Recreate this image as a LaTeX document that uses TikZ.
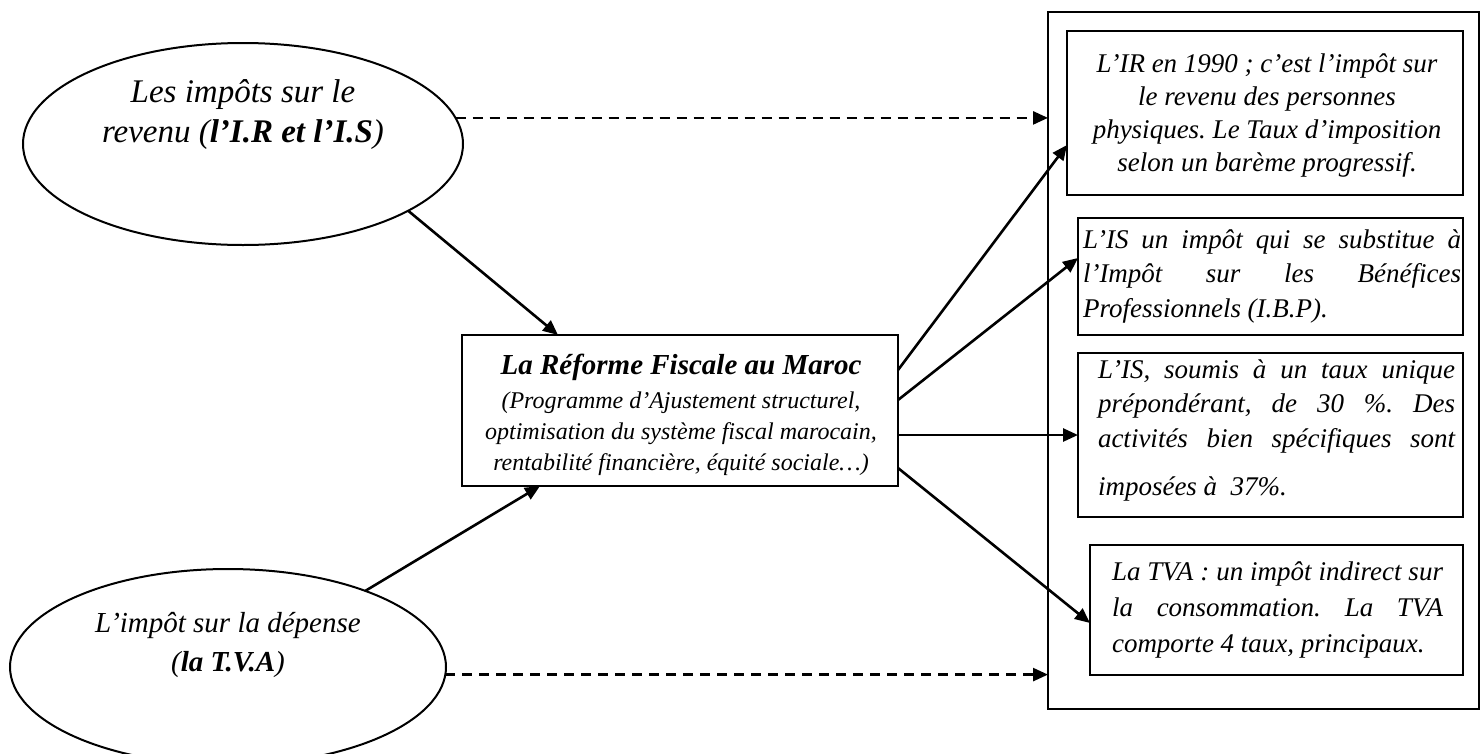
\documentclass[tikz,border=0pt]{standalone}
\usepackage{fontspec}
\setmainfont{Liberation Serif}
\usetikzlibrary{arrows.meta,shapes.geometric}
\newcommand\fsz[2]{\fontsize{#1}{#2}\selectfont}
\frenchspacing
\begin{document}
\begin{tikzpicture}[x=1pt,y=-1pt,
  box/.style={draw,line width=2pt,inner sep=0pt,outer sep=0pt,anchor=north west},
  oval/.style={draw,ellipse,line width=2pt,inner sep=0pt,outer sep=0pt},
  arr/.style={line width=2.6pt,-{Triangle[length=15pt,width=13pt]}},
  darr/.style={arr,dash pattern=on 10pt off 7pt},
  txt/.style={inner sep=0pt,outer sep=0pt}]
\useasboundingbox (0,0) rectangle (1481,753);
\clip (0,0) rectangle (1481,753);

% boxes
\node[box,minimum width=431pt,minimum height=697pt] (outer) at (1048,12) {};
\node[box,minimum width=396pt,minimum height=164pt] (b1) at (1067,31) {};
\node[box,minimum width=385pt,minimum height=117pt] (b2) at (1078,218) {};
\node[box,minimum width=385pt,minimum height=164pt] (b3) at (1078,353) {};
\node[box,minimum width=373pt,minimum height=130pt] (b4) at (1090,545) {};
\node[box,minimum width=436pt,minimum height=151pt] (c) at (462,335) {};

% ellipses
\node[oval,minimum width=440pt,minimum height=202pt] (e1) at (243,144) {};
\node[oval,minimum width=436pt,minimum height=196pt] (e2) at (228,667) {};

% texts
\node[txt,anchor=base] (te1) at (243,102) {\parbox[t]{420pt}{\centering\fsz{33}{40}\itshape
  Les impôts sur le\\ revenu (\textbf{l’I.R et l’I.S})}};
\node[txt,anchor=base] (te2) at (228,632) {\parbox[t]{420pt}{\centering\fsz{29}{39}\itshape
  L’impôt sur la dépense\\ (\textbf{la T.V.A})}};
\node[txt,anchor=base] (tc) at (681,374) {\parbox[t]{430pt}{\centering\itshape
  {\fsz{29}{34}\bfseries La Réforme Fiscale au Maroc\par}\vspace{3pt}%
  \fsz{24}{31}(Programme d’Ajustement structurel,\\
  optimisation du système fiscal marocain,\\
  rentabilité financière, équité sociale…)}};
\node[txt,anchor=base] (tb1) at (1267,72) {\parbox[t]{396pt}{\centering\fsz{27}{33}\itshape
  L’IR en 1990 ; c’est l’impôt sur\\ le revenu des personnes\\
  physiques. Le Taux d’imposition\\ selon un barème progressif.}};
\node[txt,anchor=base west] (tb2) at (1083,248) {\parbox[t]{378pt}{\fsz{27}{34.5}\itshape
  \makebox[378pt][s]{L’IS un impôt qui se substitue à}\\
  \makebox[378pt][s]{l’Impôt sur les Bénéfices}\\
  Professionnels (I.B.P).}};
\node[txt,anchor=base west] (tb3) at (1098,378) {\parbox[t]{357pt}{\fsz{27}{34.5}\itshape
  \makebox[357pt][s]{L’IS, soumis à un taux unique}\\
  \makebox[357pt][s]{prépondérant, de 30 \%. Des}\\
  \makebox[357pt][s]{activités bien spécifiques sont}\\[13.5pt]
  imposées à \ 37\%.}};
\node[txt,anchor=base west] (tb4) at (1112,580) {\parbox[t]{331pt}{\fsz{27}{36}\itshape
  \makebox[331pt][s]{La TVA : un impôt indirect sur}\\
  \makebox[331pt][s]{la consommation. La TVA}\\
  comporte 4 taux, principaux.}};

% connectors
\draw[arr] (e1.-22.4) -- ([xshift=96pt]c.north west);
\draw[arr] (e2.29) -- ([xshift=78pt]c.south west);
\draw[darr] (e1.7) -- (e1.7 -| outer.west);
\draw[darr] (e2.-2) -- (e2.-2 -| outer.west);
\draw[arr] ([yshift=-35pt]c.north east) -- ([yshift=-114pt]b1.north west);
\draw[arr] ([yshift=-65pt]c.north east) -- ([yshift=-40pt]b2.north west);
\draw[arr] ([yshift=-100pt]c.north east) -- ([yshift=-100pt]c.north east -| b3.west);
\draw[arr] ([yshift=-133pt]c.north east) -- ([yshift=-78pt]b4.north west);
\end{tikzpicture}
\end{document}
